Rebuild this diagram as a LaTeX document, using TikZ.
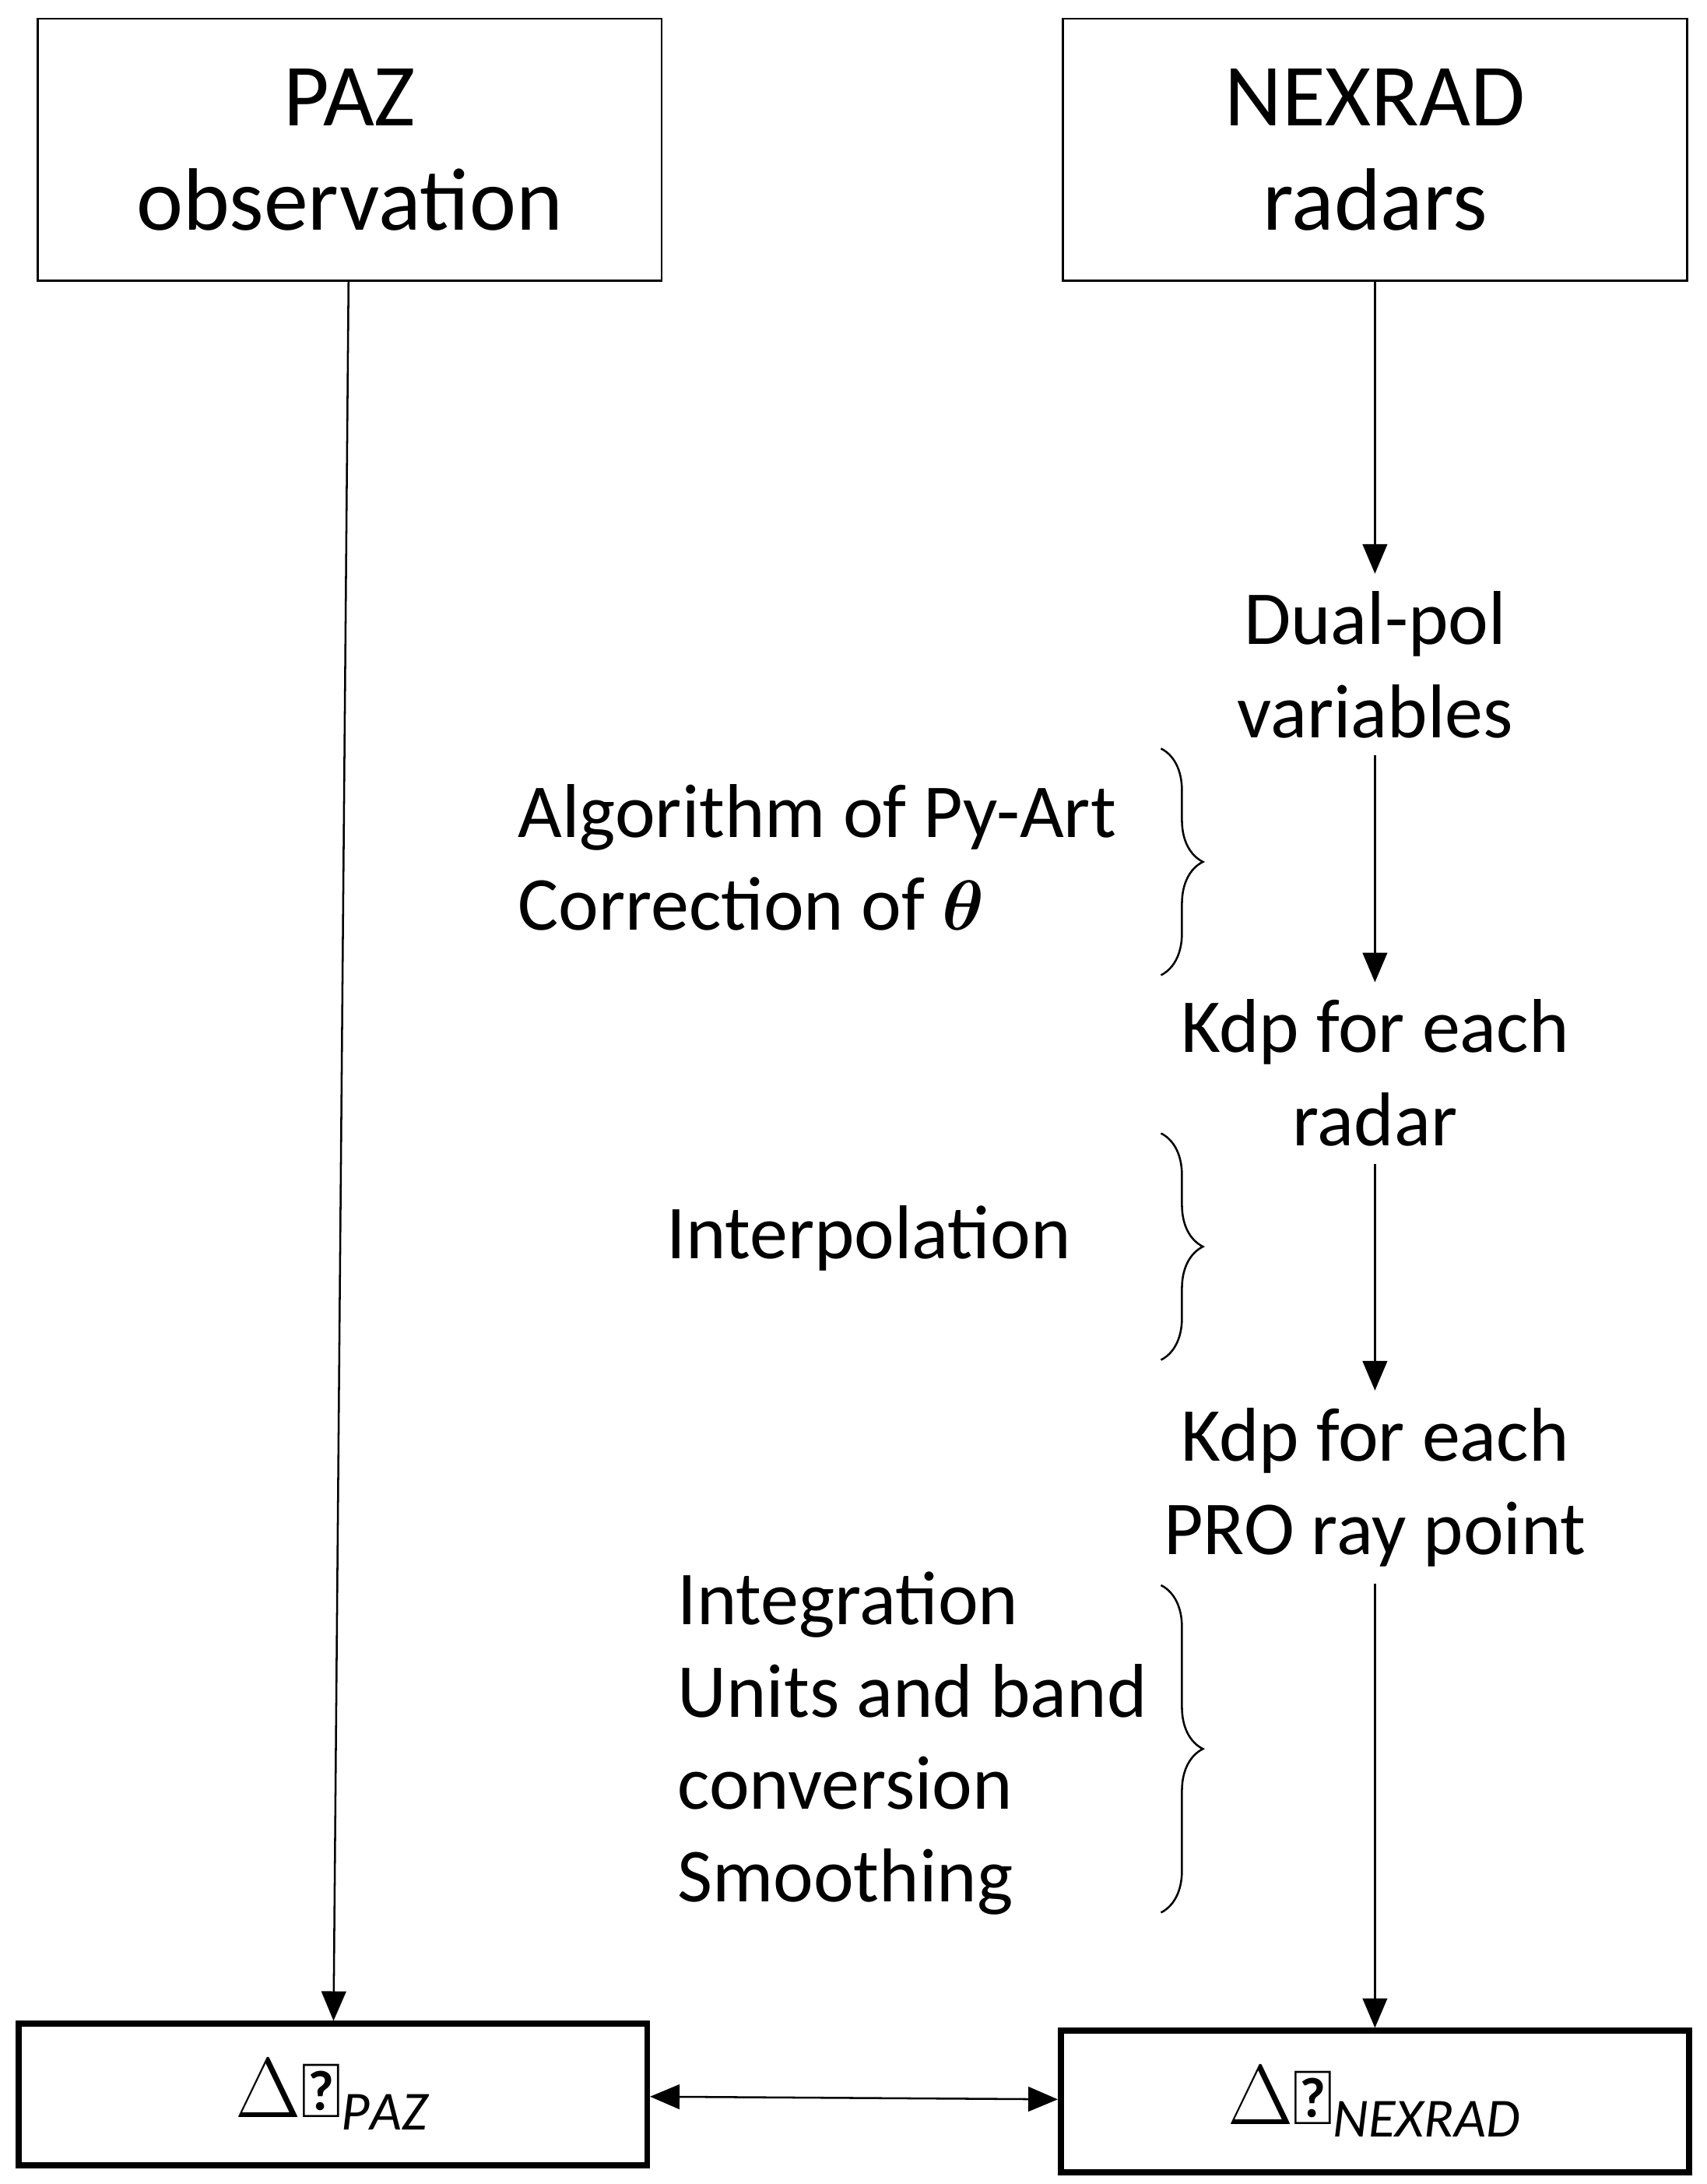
\documentclass[tikz,border=0pt]{standalone}
\usepackage{amsmath}
\usepackage{fontspec}
\setmainfont{Carlito}
\usepackage{bm}
\usetikzlibrary{decorations.pathreplacing,arrows.meta}
\tikzset{
  box/.style={draw,minimum width=4.46cm,minimum height=1.87cm,align=center,font=\fontsize{18}{21.3}\selectfont},
  res/.style={draw,line width=1.2pt,minimum width=4.49cm,minimum height=1.01cm,font=\fontsize{16}{19}\selectfont},
  stage/.style={align=center,font=\fontsize{15.5}{19}\selectfont},
  note/.style={align=left,font=\fontsize{15.5}{18.8}\selectfont},
  arr/.style={-{Triangle[length=6pt,width=5pt]}},
  brc/.style={decorate,decoration={brace,amplitude=0.3cm}}
}
\begin{document}
\begin{tikzpicture}[x=0.01cm,y=-0.01cm]
  \useasboundingbox (0,0) rectangle (1220,1561);
  \node[box] (paz) at (250,107) {PAZ\\observation};
  \node[box] (nex) at (983,107) {NEXRAD\\radars};
  \node[stage] (dual) at (983,475) {Dual-pol\\variables};
  \node[stage] (kdpr) at (983,767) {Kdp for each\\radar};
  \node[stage] (kdpp) at (983,1063) {Kdp for each\\PRO ray point};
  \node[res] (dpaz) at (238,1497) {$\Delta\mathit{\Phi}_{\mathit{PAZ}}$};
  \node[res] (dnex) at (983,1502) {$\Delta\mathit{\Phi}_{\mathit{NEXRAD}}$};
  \draw[arr] (paz) -- (dpaz);
  \draw[arr] (nex) -- (dual);
  \draw[arr] (dual) -- (kdpr);
  \draw[arr] (kdpr) -- (kdpp);
  \draw[arr] (kdpp) -- (dnex);
  \draw[{Triangle[length=6pt,width=5pt]}-{Triangle[length=6pt,width=5pt]}] (dpaz) -- (dnex);
  % braces
  \coordinate (b1a) at (830,535); \coordinate (b1b) at (830,697);
  \coordinate (b2a) at (830,810); \coordinate (b2b) at (830,972);
  \coordinate (b3a) at (830,1133); \coordinate (b3b) at (830,1367);
  \draw[brc] (b1a) -- (b1b);
  \draw[brc] (b2a) -- (b2b);
  \draw[brc] (b3a) -- (b3b);
  \node[note,anchor=west] (n1) at (358,613) {Algorithm of Py-Art\\Correction of $\bm{\theta}$};
  \node[note,anchor=east] (n2) at (778,885) {Interpolation};
  \node[note,anchor=west] (n3) at (472,1246) {Integration\\Units and band\\conversion\\Smoothing};
\end{tikzpicture}
\end{document}
